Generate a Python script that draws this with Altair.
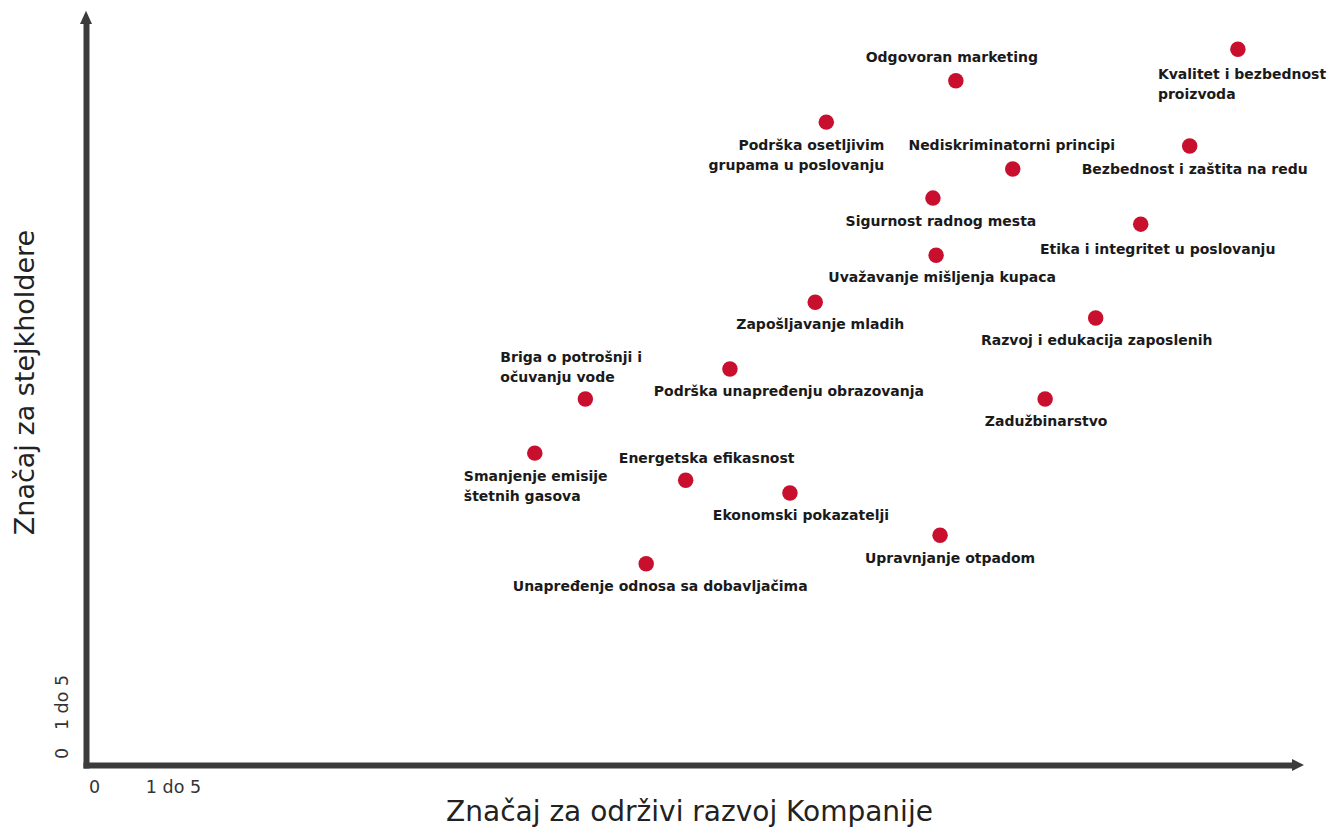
import altair as alt
import pandas as pd

# ---- data ----
topics = [
    "Kvalitet i bezbednost\nproizvoda",
    "Odgovoran marketing",
    "Podrška osetljivim\ngrupama u poslovanju",
    "Nediskriminatorni principi",
    "Bezbednost i zaštita na redu",
    "Sigurnost radnog mesta",
    "Etika i integritet u poslovanju",
    "Uvažavanje mišljenja kupaca",
    "Zapošljavanje mladih",
    "Razvoj i edukacija zaposlenih",
    "Briga o potrošnji i\nočuvanju vode",
    "Podrška unapređenju obrazovanja",
    "Zadužbinarstvo",
    "Smanjenje emisije\nštetnih gasova",
    "Energetska efikasnost",
    "Ekonomski pokazatelji",
    "Upravnjanje otpadom",
    "Unapređenje odnosa sa dobavljačima",
]
company_value = [14.48, 10.91, 9.27, 11.63, 13.87, 10.62, 13.25, 10.66, 9.13,
                 12.68, 6.22, 8.05, 12.04, 5.58, 7.49, 8.81, 10.71, 6.99]
stakeholder_value = [13.80, 13.18, 12.37, 11.45, 11.90, 10.88, 10.37, 9.76, 8.84,
                     8.53, 6.94, 7.53, 6.94, 5.88, 5.35, 5.10, 4.27, 3.71]
tick_values = [0, 1]
tick_labels = ["0", "1 do 5"]

# ---- label layout (pixel offsets of first text line from the dot, alignment) ----
label_dx = [-80, -4, 58, -1, 5, 8, 17, 6, 5, 1, -85, 59, 1, -71, 21, 11, 10, 14]
label_dy = [26, -23, 24, -23, 24, 24, 26, 23, 23, 23, -41, 23, 23, 24, -21, 23, 24, 23]
label_align = ["left", "center", "right", "center", "center", "center", "center",
               "center", "center", "center", "left", "center", "center", "left",
               "center", "center", "center", "center"]

W, H = 1206, 741
XD = [-0.101, 15.165]
YD = [-0.235, 14.294]
kx = W / (XD[1] - XD[0])
ky = H / (YD[1] - YD[0])

df = pd.DataFrame({
    "topic": topics,
    "x": company_value,
    "y": stakeholder_value,
    "align": label_align,
})
df["lx"] = df["x"] + pd.Series(label_dx) / kx
df["ly"] = df["y"] - pd.Series(label_dy) / ky

label_map = "{" + ",".join(f"'{v}':'{t}'" for v, t in zip(tick_values, tick_labels)) + "}"
label_expr = f"{label_map}[datum.value]"

AXIS_COLOR = "#3b3b3b"
DOT = "#c8102e"
FONT = "DejaVu Sans"

xscale = alt.Scale(domain=XD, nice=False, zero=False)
yscale = alt.Scale(domain=YD, nice=False, zero=False)

xaxis = alt.Axis(values=tick_values, labelExpr=label_expr,
                 title="Značaj za održivi razvoj Kompanije",
                 grid=False, ticks=False, tickSize=0,
                 domainWidth=6, domainColor=AXIS_COLOR, domainCap="square",
                 labelFont=FONT, labelFontSize=17.5, labelColor="#333333",
                 labelPadding=13, labelFlush=False, labelOverlap=False,
                 titleFont=FONT, titleFontSize=28, titleFontWeight="normal",
                 titleColor="#222222", titleY=47, titleBaseline="middle")
yaxis = alt.Axis(values=tick_values, labelExpr=label_expr,
                 title="Značaj za stejkholdere",
                 grid=False, ticks=False, tickSize=0,
                 domainWidth=6, domainColor=AXIS_COLOR, domainCap="square",
                 labelFont=FONT, labelFontSize=17.5, labelColor="#333333",
                 labelAngle=270, labelAlign="center", labelBaseline="bottom",
                 labelPadding=15, labelFlush=False, labelOverlap=False,
                 titleFont=FONT, titleFontSize=27, titleFontWeight="normal",
                 titleColor="#222222", titleX=-61, titleY=358,
                 titleAlign="center", titleBaseline="middle", titleAngle=270)

base = alt.Chart(df)

dots = base.mark_circle(size=240, color=DOT, opacity=1).encode(
    x=alt.X("x:Q", scale=xscale, axis=xaxis),
    y=alt.Y("y:Q", scale=yscale, axis=yaxis),
)

text_layers = []
for a in ["left", "center", "right"]:
    text_layers.append(
        base.transform_filter(alt.datum.align == a).mark_text(
            align=a, baseline="middle", lineBreak="\n", lineHeight=20,
            font=FONT, fontSize=14, fontWeight="bold", color="#1a1a1a",
        ).encode(
            x=alt.X("lx:Q", scale=xscale),
            y=alt.Y("ly:Q", scale=yscale),
            text="topic:N",
        )
    )

one = pd.DataFrame({"k": [0]})
arrow_x = alt.Chart(one).mark_point(
    shape="M-1,-1L1,0L-1,1Z", size=144, filled=True, opacity=1,
    color=AXIS_COLOR, strokeWidth=0,
).encode(x=alt.value(W + 6), y=alt.value(H))
arrow_y = alt.Chart(one).mark_point(
    shape="M-1,1L0,-1.2L1,1Z", size=144, filled=True, opacity=1,
    color=AXIS_COLOR, strokeWidth=0,
).encode(x=alt.value(0), y=alt.value(-6))

chart = alt.layer(dots, *text_layers, arrow_x, arrow_y).properties(
    width=W, height=H,
    autosize=alt.AutoSizeParams(type="none"),
    padding={"left": 78, "top": 16, "right": 36, "bottom": 62},
    background="white",
).configure_view(stroke=None)

chart.save("out.html", embed_options={"renderer": "svg", "actions": False})
